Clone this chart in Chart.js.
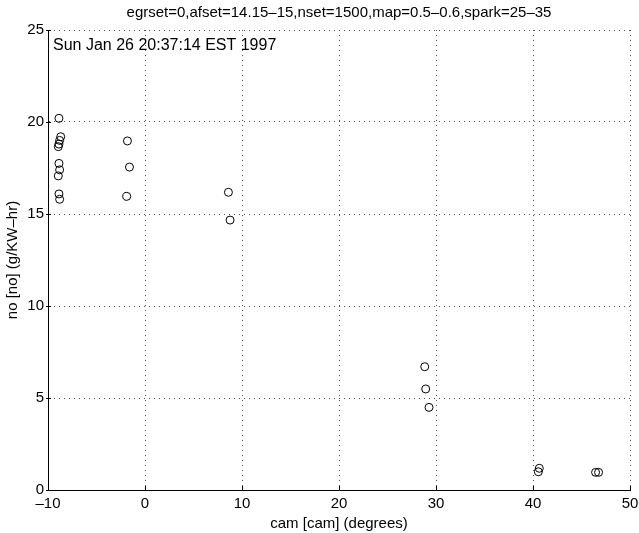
<!DOCTYPE html>
<html lang="en">
<head>
  <meta charset="UTF-8">
  <title>cam vs no</title>
  <script src="https://cdn.jsdelivr.net/npm/chart.js"></script>
  <style>
    body { margin: 0; background: #fff; }
  </style>
</head>
<body>
  <canvas id="myChart" width="639" height="533"></canvas>
  <script>
    // values
    const camDeg = [-8.87, -8.69, -8.80, -8.87, -8.94, -1.81, -8.87, -8.80, -8.94, -1.60, -8.87, -8.80, -1.88, 8.60, 8.77, 28.84, 28.94, 29.28, 40.65, 40.55, 46.45, 46.76];
    const noVals = [20.2, 19.2, 19.0, 18.8, 18.66, 18.97, 17.75, 17.4, 17.07, 17.55, 16.09, 15.8, 15.96, 16.18, 14.67, 6.7, 5.49, 4.49, 1.18, 0.99, 0.96, 0.96];
    const xTicks = [-10, 0, 10, 20, 30, 40, 50];
    const yTicks = [0, 5, 10, 15, 20, 25];

    const titleText = 'egrset=0,afset=14.15\u201315,nset=1500,map=0.5\u20130.6,spark=25\u201335';
    const stampText = 'Sun Jan 26 20:37:14 EST 1997';
    const font = 'Liberation Sans, Arial, Helvetica, sans-serif';

    const points = camDeg.map((x, i) => ({ x: x, y: noVals[i] }));

    // timestamp + little tick marks on the left and bottom axes
    const extras = {
      id: 'extras',
      afterDraw(chart) {
        const ctx = chart.ctx;
        const a = chart.chartArea;
        const xs = chart.scales.x, ys = chart.scales.y;
        ctx.save();
        ctx.strokeStyle = '#000';
        ctx.lineWidth = 1;
        ctx.beginPath();
        xTicks.forEach(v => {
          const px = Math.round(xs.getPixelForValue(v)) + 0.5;
          ctx.moveTo(px, a.bottom);
          ctx.lineTo(px, a.bottom - 4);
        });
        yTicks.forEach(v => {
          const py = Math.round(ys.getPixelForValue(v)) + 0.5;
          ctx.moveTo(a.left - 2, py);
          ctx.lineTo(a.left + 3, py);
        });
        ctx.stroke();
        ctx.fillStyle = '#000';
        ctx.font = '16px ' + font;
        ctx.textAlign = 'left';
        ctx.textBaseline = 'alphabetic';
        ctx.fillText(stampText, a.left + 5, a.top + 20);
        ctx.restore();
      }
    };

    new Chart(document.getElementById('myChart'), {
      type: 'scatter',
      data: {
        datasets: [{
          data: points,
          pointStyle: 'circle',
          pointRadius: 4,
          pointHoverRadius: 4,
          borderWidth: 1,
          borderColor: '#000',
          backgroundColor: 'rgba(0,0,0,0)'
        }]
      },
      options: {
        responsive: false,
        animation: false,
        layout: { padding: { left: 0, right: 9, top: 0, bottom: 0 } },
        plugins: {
          legend: { display: false },
          tooltip: { enabled: false },
          title: {
            display: true,
            text: titleText,
            fullSize: false,
            color: '#000',
            font: { family: font, size: 15, weight: 'normal', lineHeight: 1.2 },
            padding: { top: 4, bottom: 8 }
          }
        },
        scales: {
          x: {
            type: 'linear',
            min: -10,
            max: 50,
            afterBuildTicks: s => { s.ticks = xTicks.map(v => ({ value: v })); },
            afterFit: s => { s.height = 43; s.paddingLeft = 0; s.paddingRight = 0; },
            grid: { color: '#555', lineWidth: 1, drawTicks: false },
            border: { display: true, color: '#000', dash: [1, 4] },
            ticks: {
              color: '#000',
              padding: 6,
              font: { family: font, size: 15, lineHeight: 1 },
              callback: v => String(v).replace('-', '\u2013')
            },
            title: {
              display: true,
              text: 'cam [cam] (degrees)',
              color: '#000',
              font: { family: font, size: 15, lineHeight: 1.2 },
              padding: { top: 0, bottom: 0 }
            }
          },
          y: {
            type: 'linear',
            min: 0,
            max: 25,
            afterBuildTicks: s => { s.ticks = yTicks.map(v => ({ value: v })); },
            afterFit: s => { s.width = 48; s.paddingTop = 0; s.paddingBottom = 0; },
            grid: { color: '#555', lineWidth: 1, drawTicks: false },
            border: { display: true, color: '#000', dash: [1, 4] },
            ticks: {
              color: '#000',
              padding: 4,
              font: { family: font, size: 15 }
            },
            title: {
              display: true,
              text: 'no [no] (g/KW\u2013hr)',
              color: '#000',
              font: { family: font, size: 15, lineHeight: 1.2 },
              padding: { top: 4, bottom: 0 }
            }
          }
        }
      },
      plugins: [extras]
    });
  </script>
</body>
</html>
